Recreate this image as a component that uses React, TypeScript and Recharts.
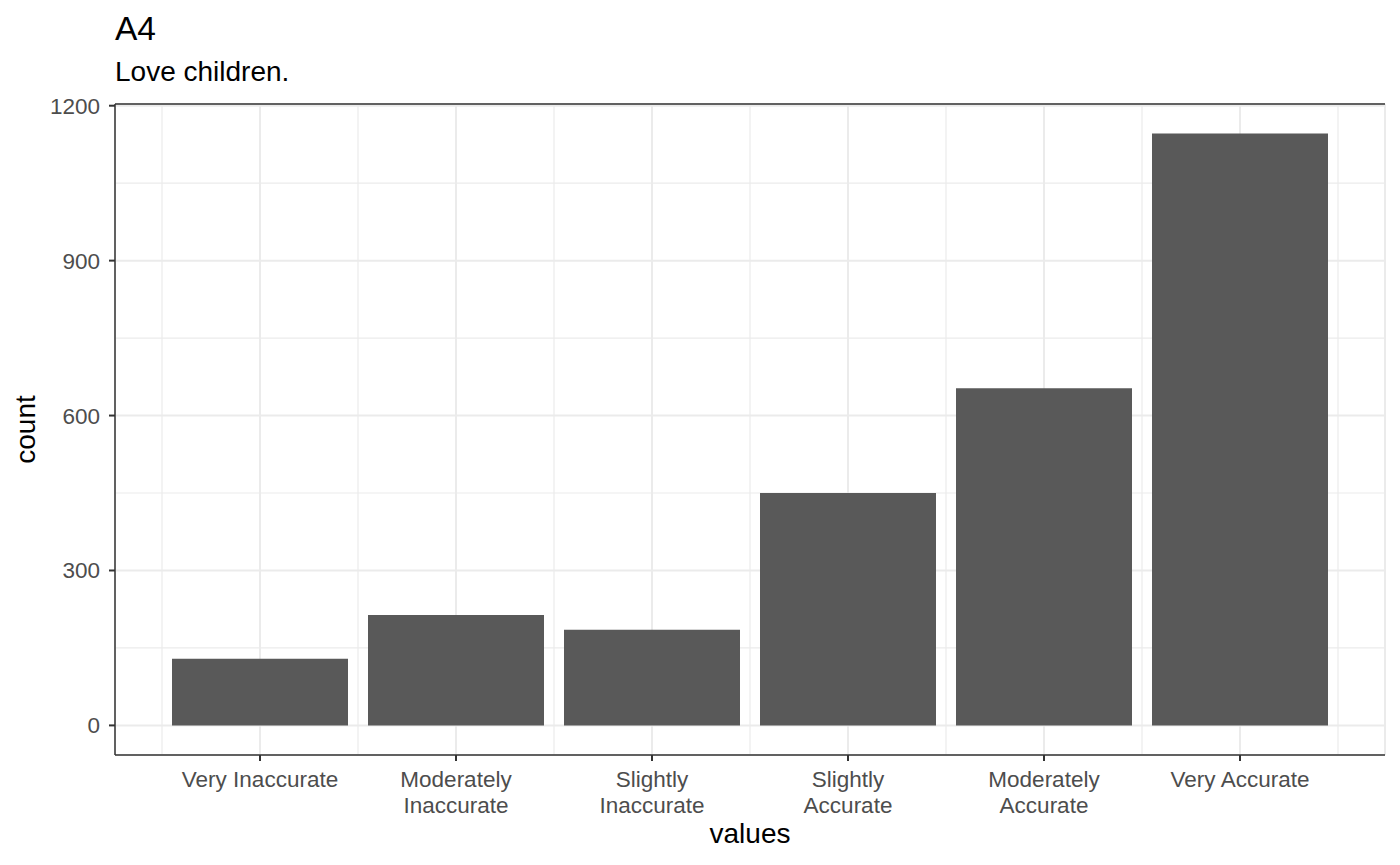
import { Bar, BarChart, CartesianGrid, XAxis, YAxis } from 'recharts';

const categories = [
  'Very Inaccurate',
  'Moderately\nInaccurate',
  'Slightly\nInaccurate',
  'Slightly\nAccurate',
  'Moderately\nAccurate',
  'Very Accurate',
];
const counts = [129, 214, 185, 450, 653, 1146];
const yTicks = [0, 300, 600, 900, 1200];
const yMinorTicks = [150, 450, 750, 1050];

// pos = 1-based slot of each bar, used by the hidden axis for the minor x grid
const data = categories.map((name, i) => ({ name, pos: i + 1, count: counts[i] }));

const FONT = '"Liberation Sans", Arial, Helvetica, sans-serif';
const GRID = '#EBEBEB';
const INK = '#333333';

// ggplot-like expansion: 5% of the data range on both ends
const maxCount = Math.max(...counts);
const yDomain = [-maxCount * 0.05, maxCount * 1.05];

// minor x grid halfway between bars
const xMinorDomain = [0.5, categories.length + 0.5];
const xMinorTicks = categories.map((_, i) => i + 0.5).concat(categories.length + 0.5);

function XTick(props: any) {
  const { x, y, payload } = props;
  const lines = String(payload.value).split('\n');
  return (
    <g transform={`translate(${x},${y})`}>
      <text textAnchor="middle" fill="#4D4D4D" fontSize={22.5} fontFamily={FONT}>
        {lines.map((line, i) => (
          <tspan key={i} x={0} dy={i === 0 ? 24 : 26}>
            {line}
          </tspan>
        ))}
      </text>
    </g>
  );
}

export default function App() {
  return (
    <div
      style={{
        position: 'absolute',
        left: 0,
        top: 0,
        width: 1400,
        height: 865,
        background: '#fff',
        fontFamily: FONT,
      }}
    >
      <div
        style={{
          position: 'absolute',
          left: 115,
          top: 11.6,
          fontSize: 33.5,
          lineHeight: 1,
          color: '#000',
        }}
      >
        A4
      </div>
      <div
        style={{
          position: 'absolute',
          left: 115,
          top: 58.3,
          fontSize: 28,
          lineHeight: 1,
          color: '#000',
        }}
      >
        Love children.
      </div>
      <div style={{ position: 'absolute', left: 0, top: 0 }}>
        <BarChart
          width={1400}
          height={865}
          data={data}
          margin={{ top: 103, right: 15, left: 0, bottom: 0 }}
          barCategoryGap={10}
        >
          <CartesianGrid
            xAxisId="minor"
            yAxisId="minor"
            stroke={GRID}
            strokeWidth={1.2}
          />
          <CartesianGrid stroke={GRID} strokeWidth={2} />
          <XAxis
            dataKey="name"
            height={110}
            padding={{ left: 47, right: 47 }}
            tickSize={6}
            tickMargin={2}
            tickLine={{ stroke: INK, strokeWidth: 2 }}
            axisLine={{ stroke: INK, strokeWidth: 1.5 }}
            tick={<XTick />}
            interval={0}
            label={{
              value: 'values',
              position: 'insideBottom',
              offset: 22,
              fill: '#000',
              fontSize: 28,
              fontFamily: FONT,
            }}
          />
          <XAxis
            xAxisId="minor"
            dataKey="pos"
            type="number"
            domain={xMinorDomain}
            allowDataOverflow
            ticks={xMinorTicks}
            padding={{ left: 47, right: 47 }}
            hide
          />
          <XAxis
            xAxisId="top"
            dataKey="name"
            orientation="top"
            height={1}
            tick={false}
            tickLine={false}
            axisLine={{ stroke: INK, strokeWidth: 1.5 }}
          />
          <YAxis
            width={115}
            type="number"
            domain={yDomain}
            allowDataOverflow
            ticks={yTicks}
            tickSize={6}
            tickMargin={9}
            tickLine={{ stroke: INK, strokeWidth: 2 }}
            axisLine={{ stroke: INK, strokeWidth: 1.5 }}
            tick={{ fill: '#4D4D4D', fontSize: 22.5, fontFamily: FONT }}
            label={{
              value: 'count',
              angle: -90,
              position: 'insideLeft',
              offset: 25,
              textAnchor: 'middle',
              fill: '#000',
              fontSize: 28,
              fontFamily: FONT,
            }}
          />
          <YAxis
            yAxisId="minor"
            type="number"
            domain={yDomain}
            allowDataOverflow
            ticks={yMinorTicks}
            hide
          />
          <YAxis
            yAxisId="right"
            orientation="right"
            width={0}
            tick={false}
            tickLine={false}
            axisLine={{ stroke: INK, strokeWidth: 1.5 }}
          />
          <Bar dataKey="count" fill="#595959" isAnimationActive={false} />
        </BarChart>
      </div>
    </div>
  );
}
